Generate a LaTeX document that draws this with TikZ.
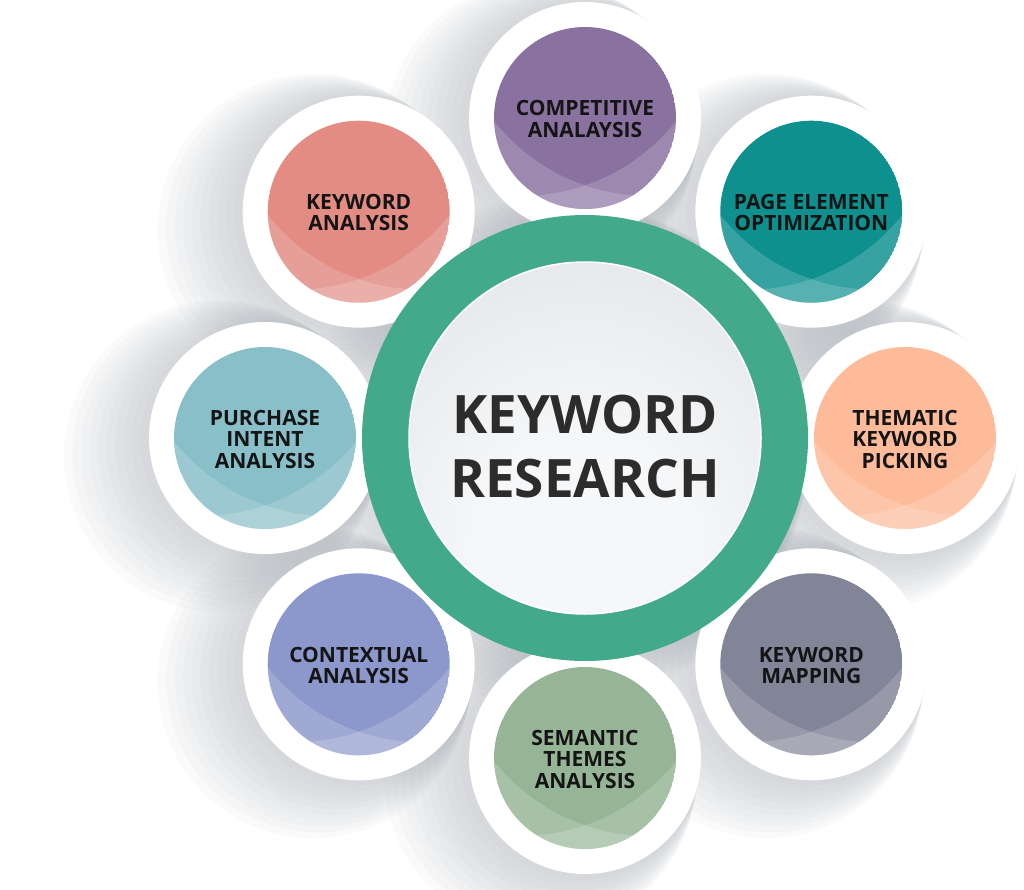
\documentclass[tikz,border=0pt]{standalone}
\usepackage{fontspec}
\setmainfont{Open Sans}
\definecolor{ringgreen}{HTML}{42AA8A}
\definecolor{cPurple}{HTML}{8A72A0}
\definecolor{cTeal}{HTML}{0E908E}
\definecolor{cPeach}{HTML}{FDBB99}
\definecolor{cSlate}{HTML}{828598}
\definecolor{cSage}{HTML}{96B596}
\definecolor{cPeri}{HTML}{8C98CB}
\definecolor{cAqua}{HTML}{88BFC8}
\definecolor{cSalmon}{HTML}{E28C84}
\definecolor{shadowgray}{HTML}{A2AAB0}
\definecolor{textdark}{HTML}{141414}
\definecolor{discA}{HTML}{F6F7F8}
\definecolor{discB}{HTML}{DFE2E4}
\definecolor{discC}{HTML}{C8CCCF}
\pgfdeclareradialshading{innerdisc}{\pgfpoint{0bp}{-20bp}}{color(0bp)=(discA); color(15bp)=(discA); color(45bp)=(discB); color(70bp)=(discC)}
\begin{document}
\begin{tikzpicture}[x=1pt,y=-1pt,
  bubtext/.style={font=\bfseries\fontsize{21}{21.5}\selectfont, text=textdark, align=center, inner sep=0pt},
  maintext/.style={font=\bfseries\fontsize{53}{64}\selectfont, text=textdark!90!white, align=center, inner sep=0pt},
  whitedisc/.style={fill=white},
  shadowlayer/.style={fill=shadowgray, fill opacity=0.05},
  overlay/.style={fill=white, fill opacity=0.17, even odd rule}]
\useasboundingbox (0,0) rectangle (1024,890);
\fill[white] (0,0) rectangle (1024,890);
% ring shadow
\foreach \k in {0,...,9}{
  \fill[shadowlayer] (585-3.5*\k,438+1.5*\k) circle[radius={223pt+3.5pt*\k}];
}
% disc shadows
\foreach \px/\py in {585/118, 811.3/211.7, 905/438, 811.3/664.3, 585/758, 358.7/664.3, 265/438, 358.7/211.7}{
  \foreach \k in {0,...,10}{
    \fill[shadowlayer] (\px-4.5*\k,\py+1.8*\k) circle[radius={116pt+4pt*\k}];
  }
}
% white discs
\foreach \px/\py in {585/118, 811.3/211.7, 905/438, 811.3/664.3, 585/758, 358.7/664.3, 265/438, 358.7/211.7}{
  \fill[whitedisc] (\px,\py) circle[radius=116pt];
}
% coloured bubbles
\foreach \nm/\px/\py/\col/\txt in {
  comp/585/118/cPurple/{COMPETITIVE\\ANALAYSIS},
  page/811.3/211.7/cTeal/{PAGE ELEMENT\\OPTIMIZATION},
  them/905/438/cPeach/{THEMATIC\\KEYWORD\\PICKING},
  kmap/811.3/664.3/cSlate/{KEYWORD\\MAPPING},
  sema/585/758/cSage/{SEMANTIC\\THEMES\\ANALYSIS},
  cont/358.7/664.3/cPeri/{CONTEXTUAL\\ANALYSIS},
  purc/265/438/cAqua/{PURCHASE\\INTENT\\ANALYSIS},
  kana/358.7/211.7/cSalmon/{KEYWORD\\ANALYSIS}}{
  \begin{scope}[shift={(\px,\py)}]
    \begin{scope}
      \clip (0,0) circle[radius=91pt];
      \fill[\col] (0,0) circle[radius=91pt];
      \fill[overlay] (-100,-100) rectangle (100,100) (64,-120) circle[radius=198pt];
      \fill[overlay] (-100,-100) rectangle (100,100) (-64,-120) circle[radius=198pt];
    \end{scope}
    \node[bubtext] (\nm) at (0,1) {\txt};
  \end{scope}
}
% central ring
\fill[ringgreen] (585,438) circle[radius=223pt];
\shade[shading=innerdisc] (585,438) circle[radius=176pt];
\draw[white, line width=1.5pt] (585,438) circle[radius=176pt];
\node[maintext] (center) at (585,447) {KEYWORD\\RESEARCH};
\end{tikzpicture}
\end{document}
